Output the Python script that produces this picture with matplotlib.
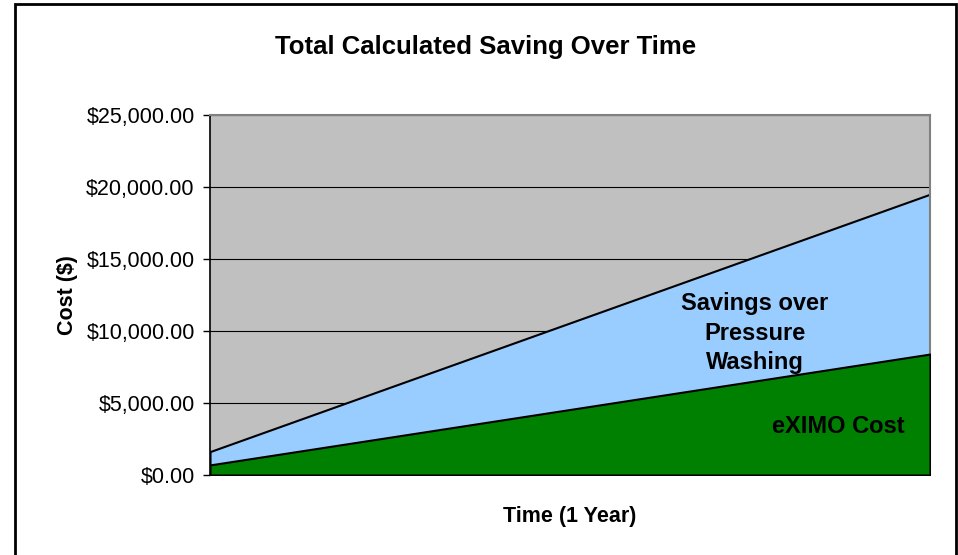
import matplotlib.pyplot as plt
from matplotlib.patches import Rectangle
from matplotlib.ticker import FuncFormatter

plt.rcParams["font.family"] = ["Liberation Sans", "DejaVu Sans"]

# cumulative cost per month over one year
months = [1, 2, 3, 4, 5, 6, 7, 8, 9, 10, 11, 12]
pressure_washing_cost = [1625, 3250, 4875, 6500, 8125, 9750,
                         11375, 13000, 14625, 16250, 17875, 19500]
eximo_cost = [700, 1400, 2100, 2800, 3500, 4200,
              4900, 5600, 6300, 7000, 7700, 8400]
y_ticks = [0, 5000, 10000, 15000, 20000, 25000]

fig = plt.figure(figsize=(9.58, 5.55), dpi=100)
ax = fig.add_axes([210 / 958, 1 - 475 / 555, 720 / 958, 360 / 555])
ax.set_facecolor("#C0C0C0")

ax.fill_between(months, 0, pressure_washing_cost, facecolor="#99CCFF",
                edgecolor="black", linewidth=1.5, zorder=2)
ax.fill_between(months, 0, eximo_cost, facecolor="#008000",
                edgecolor="black", linewidth=1.5, zorder=3)

ax.set_xlim(months[0], months[-1])
ax.set_ylim(0, 25000)
ax.set_yticks(y_ticks)
ax.yaxis.set_major_formatter(FuncFormatter(lambda v, p: f"${v:,.2f}"))
ax.set_xticks([])
ax.grid(axis="y", color="black", linewidth=0.8, zorder=1)
ax.set_axisbelow(True)
ax.tick_params(axis="y", length=5, width=1, labelsize=15.5, pad=6)

for side in ["top", "right"]:
    ax.spines[side].set_color("#808080")
    ax.spines[side].set_linewidth(1.5)
for side in ["left", "bottom"]:
    ax.spines[side].set_color("black")
    ax.spines[side].set_linewidth(1.2)

ax.set_ylabel("Cost ($)", fontsize=15.5, fontweight="bold", labelpad=6)
ax.set_xlabel("Time (1 Year)", fontsize=15.5, fontweight="bold", labelpad=22)

fig.text(486 / 958, 1 - 47 / 555, "Total Calculated Saving Over Time",
         ha="center", va="center", fontsize=18.5, fontweight="bold")

ax.text(0.757, 0.394, "Savings over\nPressure\nWashing", transform=ax.transAxes,
        ha="center", va="center", fontsize=17, fontweight="bold",
        linespacing=1.35, zorder=5)
ax.text(0.872, 0.136, "eXIMO Cost", transform=ax.transAxes,
        ha="center", va="center", fontsize=17, fontweight="bold", zorder=5)

# outer chart frame
fig.add_artist(Rectangle((15 / 958, -0.05), 941 / 958, 1.05 - 4 / 555,
                         transform=fig.transFigure, fill=False,
                         edgecolor="black", linewidth=2))

fig.savefig("out.png", dpi=100)
